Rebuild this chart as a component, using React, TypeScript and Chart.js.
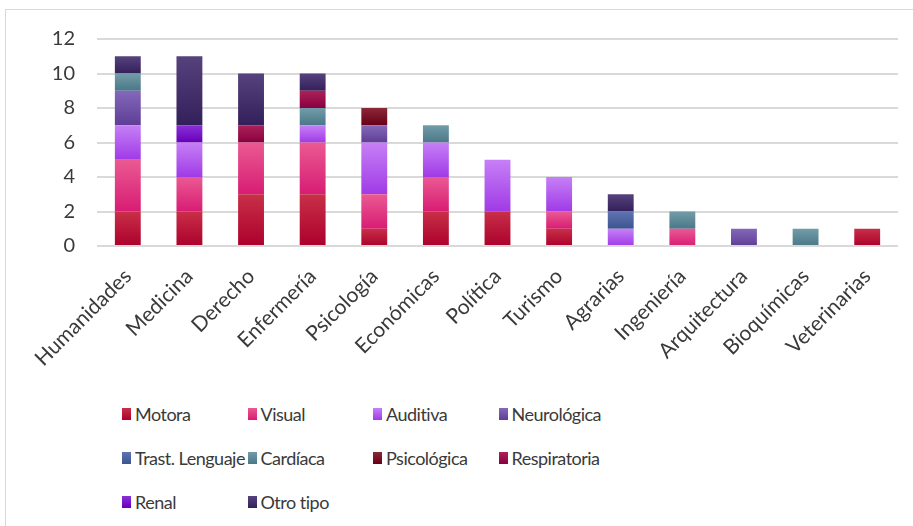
import React, { useEffect, useRef } from "react";
import { Chart, registerables } from "chart.js";

Chart.register(...registerables);

const categories = ["Humanidades", "Medicina", "Derecho", "Enfermería", "Psicología", "Económicas", "Política", "Turismo", "Agrarias", "Ingeniería", "Arquitectura", "Bioquímicas", "Veterinarias"];

const motora =        [2, 2, 3, 3, 1, 2, 2, 1, 0, 0, 0, 0, 1];
const visual =        [3, 2, 3, 3, 2, 2, 0, 1, 0, 1, 0, 0, 0];
const auditiva =      [2, 2, 0, 1, 3, 2, 3, 2, 1, 0, 0, 0, 0];
const neurologica =   [2, 0, 0, 0, 1, 0, 0, 0, 0, 0, 1, 0, 0];
const trastLenguaje = [0, 0, 0, 0, 0, 0, 0, 0, 1, 0, 0, 0, 0];
const cardiaca =      [1, 0, 0, 1, 0, 1, 0, 0, 0, 1, 0, 1, 0];
const psicologica =   [0, 0, 0, 0, 1, 0, 0, 0, 0, 0, 0, 0, 0];
const respiratoria =  [0, 0, 1, 1, 0, 0, 0, 0, 0, 0, 0, 0, 0];
const renal =         [0, 1, 0, 0, 0, 0, 0, 0, 0, 0, 0, 0, 0];
const otroTipo =      [1, 4, 3, 1, 0, 0, 0, 0, 1, 0, 0, 0, 0];

const yTicks = [0, 2, 4, 6, 8, 10, 12];

const seriesNames = ["Motora", "Visual", "Auditiva", "Neurológica", "Trast. Lenguaje", "Cardíaca", "Psicológica", "Respiratoria", "Renal", "Otro tipo"];
const seriesValues = [motora, visual, auditiva, neurologica, trastLenguaje, cardiaca, psicologica, respiratoria, renal, otroTipo];
// [top, bottom] gradient colours
const seriesColors: [string, string][] = [
  ["#c83048", "#ac002c"],
  ["#ea5a92", "#d81c74"],
  ["#c680f6", "#a03ae6"],
  ["#8468ba", "#5e3e96"],
  ["#5e74b2", "#3c5490"],
  ["#729ca8", "#4a7888"],
  ["#8a2838", "#680018"],
  ["#aa2258", "#8a0040"],
  ["#8a30d8", "#6800b8"],
  ["#56427c", "#33205a"],
];

const TEXT = "#3a3a3a";
const FONT = "Lato, 'Open Sans', sans-serif";

export default function App() {
  const ref = useRef<HTMLCanvasElement | null>(null);
  useEffect(() => {
    if (!ref.current) return;
    const datasets = seriesNames.map((name, si) => ({
      label: name,
      data: seriesValues[si],
      borderWidth: 0,
      barPercentage: 0.42,
      categoryPercentage: 1,
      backgroundColor: (ctx: any) => {
        const chart = ctx.chart;
        const ys = chart.scales?.y;
        const [top, bot] = seriesColors[si];
        if (!ys || ctx.dataIndex === undefined) return bot;
        const i = ctx.dataIndex;
        let base = 0;
        for (let k = 0; k < si; k++) base += seriesValues[k][i];
        const v = seriesValues[si][i];
        const y0 = ys.getPixelForValue(base + v);
        const y1 = ys.getPixelForValue(base);
        if (!isFinite(y0) || !isFinite(y1) || y0 === y1) return bot;
        const g = chart.ctx.createLinearGradient(0, y0, 0, y1);
        g.addColorStop(0, top);
        g.addColorStop(1, bot);
        return g;
      },
    }));
    const chart = new Chart(ref.current, {
      type: "bar",
      data: { labels: categories, datasets },
      options: {
        animation: false,
        responsive: false,
        maintainAspectRatio: false,
        layout: { padding: { top: 39, right: 15, left: 0, bottom: 0 } },
        plugins: { legend: { display: false }, tooltip: { enabled: false } },
        scales: {
          x: {
            stacked: true,
            grid: { display: false },
            border: { display: false },
            ticks: {
              color: TEXT,
              font: { family: FONT, size: 21 },
              maxRotation: 45,
              minRotation: 45,
              autoSkip: false,
              padding: 10,
            },
            afterFit: (s: any) => { s.height = 154; },
          },
          y: {
            stacked: true,
            min: 0,
            max: 12,
            afterBuildTicks: (s: any) => { s.ticks = yTicks.map((v) => ({ value: v })); },
            grid: { color: "#d9d9d9", lineWidth: 2, drawTicks: false },
            border: { display: false },
            ticks: {
              color: TEXT,
              font: { family: FONT, size: 20 },
              padding: 22,
            },
            afterFit: (s: any) => { s.width = 97; },
          },
        },
      },
    });
    return () => chart.destroy();
  }, []);

  return (
    <div style={{ position: "fixed", left: 0, top: 0, width: 913, height: 526, background: "#fff", overflow: "hidden" }}>
      <div style={{ position: "absolute", left: 5, top: 9, width: 940, height: 560, border: "1.5px solid #d9d9d9", boxSizing: "border-box" }} />
      <canvas ref={ref} width={913} height={400} style={{ position: "absolute", left: 0, top: 0 }} />
      <div style={{ position: "absolute", left: 122, top: 401, width: 700, fontFamily: FONT, fontSize: 18, letterSpacing: -0.5, color: TEXT }}>
        {seriesNames.map((name, i) => (
          <div key={name} style={{ position: "absolute", left: (i % 4) * 125.5, top: Math.floor(i / 4) * 44, display: "flex", alignItems: "center", whiteSpace: "nowrap", height: 26 }}>
            <span style={{ display: "inline-block", width: 9, height: 12, marginRight: 4, background: `linear-gradient(${seriesColors[i][0]}, ${seriesColors[i][1]})` }} />
            <span>{name}</span>
          </div>
        ))}
      </div>
    </div>
  );
}
